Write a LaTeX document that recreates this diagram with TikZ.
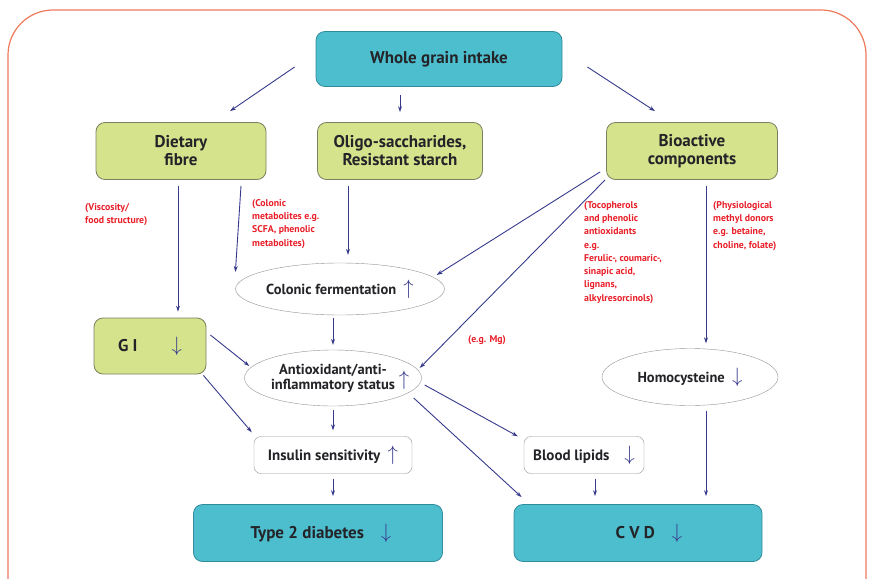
\documentclass[tikz,border=0pt]{standalone}
\usepackage{fontspec}
\setmainfont{PT Sans}
\usetikzlibrary{shapes.geometric,calc,arrows.meta,positioning}
\definecolor{frameorange}{RGB}{238,122,92}
\definecolor{tealfill}{RGB}{77,190,206}
\definecolor{tealline}{RGB}{48,140,155}
\definecolor{greenfill}{RGB}{213,227,140}
\definecolor{greenline}{RGB}{120,130,95}
\definecolor{linkblue}{RGB}{55,58,140}
\definecolor{notered}{RGB}{232,30,40}
\definecolor{textdark}{RGB}{35,35,40}
\newcommand{\uparr}{\textcolor{linkblue}{\fontsize{21}{21}\selectfont$\uparrow$}}
\newcommand{\dnarr}{\textcolor{linkblue}{\fontsize{21}{21}\selectfont$\downarrow$}}
\tikzset{
  disease/.style={draw=tealline, fill=tealfill, rounded corners=9pt, line width=0.8pt, text=textdark, font=\bfseries\fontsize{17}{19}\selectfont},
  source/.style={draw=greenline, fill=greenfill, rounded corners=9pt, line width=0.8pt, text=textdark, align=center, font=\bfseries\fontsize{17}{18}\selectfont},
  effect/.style={draw=gray!85, fill=white, ellipse, inner sep=0pt, text=textdark, align=center, font=\bfseries\fontsize{14.5}{15}\selectfont},
  marker/.style={draw=gray!85, fill=white, rounded corners=7pt, inner sep=0pt, text=textdark, font=\bfseries\fontsize{15}{16}\selectfont},
  note/.style={anchor=north west, align=left, text=notered, inner sep=0pt, font=\bfseries\fontsize{9.8}{13.3}\selectfont},
  link/.style={->, linkblue, line width=0.9pt},
  >={Stealth[length=6pt,width=4pt]}
}
\begin{document}
\begin{tikzpicture}[x=1pt,y=-1pt]
\clip (0,0) rectangle (872,578);
\draw[frameorange, line width=1.2pt, rounded corners=45pt] (8,10) rectangle (866,640);

% top and first row
\node[disease, minimum width=246pt, minimum height=55pt] (whole) at (439,59) {Whole grain intake};
\node[source, minimum width=170pt, minimum height=57pt] (fibre) at (181,151) {Dietary\\fibre};
\node[source, minimum width=165pt, minimum height=57pt] (oligo) at (400,151) {Oligo-saccharides,\\Resistant starch};
\node[source, minimum width=171pt, minimum height=57pt] (bio) at (692,151) {Bioactive\\components};

% intermediate effects
\node[effect, minimum width=199pt, minimum height=52pt] (colonic) at (340,289) {Colonic fermentation\enspace\uparr};
\node[source, minimum width=112pt, minimum height=56pt] (gi) at (150,346) {G I\qquad\dnarr};
\node[effect, minimum width=177pt, minimum height=56pt] (antiox) at (333,378) {Antioxidant/anti-\\inflammatory status\hspace{14pt}};
\node[inner sep=0pt] (antiup) at (404,380) {\uparr};
\node[effect, minimum width=176pt, minimum height=57pt] (homo) at (690,377) {Homocysteine\enspace\dnarr};
\node[marker, minimum width=158pt, minimum height=37pt] (insulin) at (333,455) {Insulin sensitivity\enspace\uparr};
\node[marker, minimum width=120pt, minimum height=37pt] (lipids) at (584,455) {Blood lipids\quad\dnarr};

% outcomes
\node[disease, minimum width=249pt, minimum height=57pt] (t2d) at (318,533) {\hspace{6pt}Type 2 diabetes\quad\dnarr};
\node[disease, minimum width=248pt, minimum height=57pt] (cvd) at (638,533) {\hspace{22pt}C V D\quad\dnarr};

% red notes
\node[note] (visc) at (85,203) {(Viscosity/\\food structure)};
\node[note] (metab) at (252,199) {(Colonic\\metabolites e.g.\\SCFA, phenolic\\metabolites)};
\node[note] (toco) at (584,201) {(Tocopherols\\and phenolic\\antioxidants\\e.g.\\Ferulic-, coumaric-,\\sinapic acid,\\lignans,\\alkylresorcinols)};
\node[note] (methyl) at (713,201) {(Physiological\\methyl donors\\e.g. betaine,\\choline, folate)};
\node[note] (mg) at (468,335) {(e.g. Mg)};

% connectors
\draw[link] ($(whole.west)+(-21,8)$) -- ($(fibre.north)+(49,-11)$);
\draw[link] ($(oligo.north |- whole.south)+(0,8)$) -- ($(oligo.north)+(0,-10)$);
\draw[link] ($(whole.east)+(25,8)$) -- ($(bio.north)+(-37,-11)$);
\draw[link] ($(fibre.south)+(-3,6)$) -- ($(gi.north)+(28,-6)$);
\draw[link] ($(fibre.south)+(60,6)$) -- ($(colonic.west)+(0,-17)$);
\draw[link] ($(oligo.south)+(-52,6)$) -- ($(colonic.north)+(8,-8)$);
\draw[link] ($(bio.south west)+(-6,-8)$) -- ($(colonic.east)+(-8,-14)$);
\draw[link] ($(bio.south west)+(-1,0)$) -- ($(antiox.east)+(-2,-10)$);
\draw[link] ($(bio.south)+(14,6)$) -- ($(homo.north)+(16,-5)$);
\draw[link] ($(colonic.south)+(-7,3)$) -- ($(antiox.north)+(0,-5)$);
\draw[link] ($(gi.east)+(4,-11)$) -- ($(antiox.west)+(5,-12)$);
\draw[link] ($(gi.south east)+(-3,1)$) -- ($(insulin.north west)+(-2,-4)$);
\draw[link] ($(antiox.south)+(0,4)$) -- ($(insulin.north)+(0,-6)$);
\draw[link] ($(antiox.east)+(3,7)$) -- ($(lipids.north west)+(-6,0)$);
\draw[link] ($(antiox.east)+(-8,20)$) -- ($(cvd.north west)+(8,-7)$);
\draw[link] ($(insulin.south)+(0,5)$) -- ($(t2d.north)+(15,-8)$);
\draw[link] ($(lipids.south)+(11,5)$) -- ($(cvd.north)+(-43,-8)$);
\draw[link] ($(homo.south)+(16,5)$) -- ($(cvd.north)+(68,-8)$);
\end{tikzpicture}
\end{document}
